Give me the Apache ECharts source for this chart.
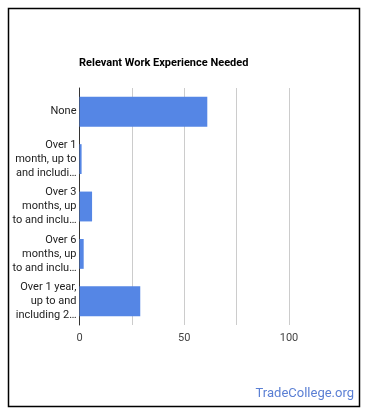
<!DOCTYPE html>
<html>
<head>
<meta charset="utf-8">
<script src="https://cdn.jsdelivr.net/npm/echarts@6/dist/echarts.min.js"></script>
<style>
html,body{margin:0;padding:0;background:#fff;}
#chart{width:370px;height:417px;}
</style>
</head>
<body>
<div id="chart"></div>
<script>
const title = "Relevant Work Experience Needed";
const categories = [
  "None",
  "Over 1\nmonth, up to\nand includi…",
  "Over 3\nmonths, up\nto and inclu…",
  "Over 6\nmonths, up\nto and inclu…",
  "Over 1 year,\nup to and\nincluding 2…"
];
const values = [61, 1, 6, 2, 29];
const xTicks = [0, 50, 100];
const watermark = "TradeCollege.org";

const chart = echarts.init(document.getElementById('chart'), null, {renderer: 'canvas'});
chart.setOption({
  animation: false,
  backgroundColor: '#fff',
  title: {
    text: title,
    left: 79, top: 58, padding: 0,
    textStyle: {fontFamily: 'Roboto', fontSize: 11, fontWeight: 'bold', color: '#000'}
  },
  graphic: [
    {type: 'rect', shape: {x: 8.5, y: 8.5, width: 351, height: 398},
     style: {fill: 'none', stroke: '#000', lineWidth: 1.5}, z: 10},
    {type: 'text', right: 16, top: 387,
     style: {text: watermark, font: '13px Roboto', fill: '#5a7fd4'}}
  ],
  grid: {left: 79.5, right: 81, top: 88, bottom: 92, containLabel: false},
  xAxis: {
    type: 'value', min: 0, max: 100, interval: 25,
    axisLine: {show: false}, axisTick: {show: false},
    splitLine: {lineStyle: {color: '#cccccc', width: 1}},
    axisLabel: {
      fontFamily: 'Roboto', fontSize: 11, color: '#444', margin: 8,
      formatter: v => xTicks.includes(v) ? String(v) : ''
    }
  },
  yAxis: {
    type: 'category', data: categories, inverse: true,
    axisLine: {show: true, lineStyle: {color: '#333', width: 1}},
    axisTick: {show: false},
    axisLabel: {fontFamily: 'Roboto', fontSize: 11, color: '#222', lineHeight: 14, margin: 3, align: 'right'}
  },
  series: [{
    type: 'bar', data: values, barCategoryGap: '37%',
    itemStyle: {color: '#5586e5'}
  }]
});
</script>
</body>
</html>
